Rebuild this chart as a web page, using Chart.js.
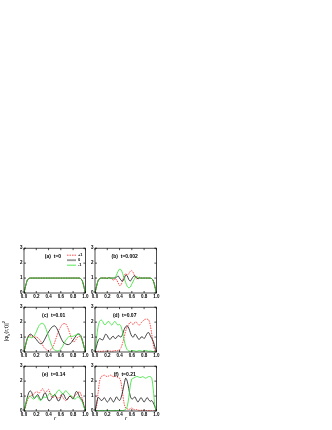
<!DOCTYPE html>
<html lang="en">
<head>
  <meta charset="UTF-8" />
  <title>Spin components |phi_k(r,t)|^2</title>
  <script src="https://cdn.jsdelivr.net/npm/chart.js"></script>
  <style>
    body {
      margin: 0;
      width: 332px;
      height: 430px;
      background: white;
      position: relative;
      overflow: hidden;
      font-family: "Liberation Sans", Arial, sans-serif;
    }
    .panel {
      position: absolute;
    }
    .ylab {
      position: absolute;
      left: -14px;
      top: 326px;
      width: 40px;
      text-align: center;
      font-size: 6px;
      transform: rotate(-90deg);
      white-space: nowrap;
    }
    .ylab sub, .ylab sup { font-size: 4px; }
    .rlab {
      position: absolute;
      top: 415px;
      font-size: 6px;
      font-style: italic;
    }
  </style>
</head>
<body>
  <canvas class="panel" id="pa" width="74" height="57" style="left:16px;top:244px"></canvas>
  <canvas class="panel" id="pb" width="74" height="57" style="left:87px;top:244px"></canvas>
  <canvas class="panel" id="pc" width="74" height="57" style="left:16px;top:303px"></canvas>
  <canvas class="panel" id="pd" width="74" height="57" style="left:87px;top:303px"></canvas>
  <canvas class="panel" id="pe" width="74" height="57" style="left:16px;top:362px"></canvas>
  <canvas class="panel" id="pf" width="74" height="57" style="left:87px;top:362px"></canvas>
  <div class="ylab">|&phi;<sub>k</sub>(r,t)|<sup>2</sup></div>
  <div class="rlab" style="left:54px">r</div>
  <div class="rlab" style="left:125px">r</div>

  <script>
    // radial grid (0 .. 1, step 0.025)
    const rValues = [0, 0.025, 0.05, 0.075, 0.1, 0.125, 0.15, 0.175, 0.2, 0.225,
      0.25, 0.275, 0.3, 0.325, 0.35, 0.375, 0.4, 0.425, 0.45, 0.475,
      0.5, 0.525, 0.55, 0.575, 0.6, 0.625, 0.65, 0.675, 0.7, 0.725,
      0.75, 0.775, 0.8, 0.825, 0.85, 0.875, 0.9, 0.925, 0.95, 0.975, 1];

    const xTicks = [0, 0.2, 0.4, 0.6, 0.8, 1.0];
    const yTicks = [0, 1, 2, 3];
    const legendLabels = ['+1', '0', '-1'];

    // (a) t=0
    const aPlus  = [0,0.45,0.82,0.96,1,1,1,1,1,1,1,1,1,1,1,1,1,1,1,1,1,1,1,1,1,1,1,1,1,1,1,1,1,1,1,1,1,0.96,0.82,0.45,0];
    const aZero  = [0,0.45,0.82,0.96,1,1,1,1,1,1,1,1,1,1,1,1,1,1,1,1,1,1,1,1,1,1,1,1,1,1,1,1,1,1,1,1,1,0.96,0.82,0.45,0];
    const aMinus = [0,0.45,0.82,0.96,1,1,1,1,1,1,1,1,1,1,1,1,1,1,1,1,1,1,1,1,1,1,1,1,1,1,1,1,1,1,1,1,1,0.96,0.82,0.45,0];

    // (b) t=0.002
    const bPlus  = [0,0.45,0.82,0.96,1,1,1,1,1,1,1,0.95,0.85,0.95,0.9,0.7,0.5,0.55,0.85,1.15,1.3,1.2,1.3,1.45,1.5,1.35,1.1,0.95,1,1.05,1,1,1,1,1,1,1,0.96,0.82,0.45,0];
    const bZero  = [0,0.45,0.82,0.96,1,1,1,1,0.97,1.03,1,1,1,1,1.05,1.15,1,0.85,0.8,0.95,1.2,1.15,0.9,0.8,0.95,1.1,1.15,1.05,0.95,1,1,1,1,1,1,1,1,0.96,0.82,0.45,0];
    const bMinus = [0,0.45,0.82,0.96,1,1,1,1,1,1,1,1,1,1.05,1.2,1.45,1.6,1.55,1.3,1,0.7,0.45,0.35,0.4,0.6,0.8,1,1.1,1.05,1,1,1,1,1,1,1,1,0.96,0.82,0.45,0];

    // (c) t=0.01
    const cPlus  = [0,0.45,0.85,1.05,1.1,1.05,1,1,1,0.95,0.85,0.7,0.5,0.3,0.2,0.12,0.1,0.12,0.2,0.4,0.65,0.95,1.25,1.5,1.7,1.85,1.9,1.9,1.75,1.5,1.2,0.9,0.7,0.7,0.85,1,1.05,1,0.75,0.4,0];
    const cZero  = [0,0.45,0.85,1.1,1.2,1.15,1.05,0.95,0.85,0.7,0.6,0.55,0.6,0.75,0.95,1.15,1.35,1.5,1.65,1.72,1.75,1.65,1.45,1.2,0.95,0.75,0.6,0.55,0.5,0.5,0.55,0.65,0.8,0.95,1.1,1.2,1.2,1.1,0.8,0.4,0];
    const cMinus = [0,0.45,0.85,1,1,0.95,1,1.15,1.35,1.6,1.8,1.9,1.92,1.85,1.65,1.35,1.05,0.75,0.45,0.25,0.12,0.08,0.07,0.1,0.2,0.35,0.55,0.75,0.9,1,1.05,1.05,1.05,1.1,1.15,1.2,1.15,1.05,0.8,0.4,0];

    // (d) t=0.07
    const dPlus  = [0,0.02,0.05,0.05,0.04,0.05,0.07,0.05,0.05,0.08,0.06,0.05,0.07,0.1,0.08,0.1,0.15,0.3,0.6,1,1.4,1.7,1.85,2,1.9,1.85,2,2,1.85,1.8,1.95,2.05,2.15,2.2,2.2,2.15,1.8,1.2,0.5,0.1,0];
    const dZero  = [0,0.4,0.75,0.9,0.85,0.8,1,1.2,1.1,0.9,0.85,1,1.05,0.9,0.95,1.1,1.05,1,1.2,1.5,1.7,1.75,1.6,1.3,1.05,1,1.2,1.1,0.9,0.85,1,1,0.9,1.05,1.25,1.3,1.1,0.9,0.7,0.35,0];
    const dMinus = [0,0.9,1.7,2.05,2.15,2.05,1.85,1.85,2,2.05,1.9,1.8,1.95,2.05,1.9,1.8,1.85,1.7,1.3,0.8,0.4,0.15,0.07,0.05,0.08,0.1,0.07,0.05,0.08,0.1,0.07,0.05,0.07,0.1,0.08,0.05,0.07,0.05,0.03,0.01,0];

    // (e) t=0.14
    const ePlus  = [0,0.3,0.65,0.9,1,1.05,1.1,1.2,1.3,1.25,1.2,1.35,1.5,1.35,1.2,1.35,1.45,1.2,0.95,0.9,1,0.95,0.85,0.9,1.05,0.95,0.8,0.7,0.75,0.9,1,0.95,0.9,1,1.1,1.2,1.3,1.15,0.8,0.4,0];
    const eZero  = [0,0.4,0.85,1.2,1.35,1.25,0.95,0.85,1,1.1,0.9,0.75,0.85,1.15,1.2,0.95,0.7,0.7,0.85,1,1.1,0.95,0.7,0.7,0.95,1.15,1.1,0.85,0.75,0.9,1,0.9,0.8,1.05,1.3,1.25,1,0.85,0.7,0.35,0];
    const eMinus = [0,0.4,0.8,0.95,1,0.9,0.8,0.85,1,0.95,0.75,0.7,0.85,0.95,0.9,0.95,1.1,1.2,1.1,1,1.05,1.2,1.35,1.4,1.3,1.15,1.2,1.35,1.3,1.15,1.05,1,0.9,0.8,0.85,0.95,0.9,0.75,0.6,0.3,0];

    // (f) t=0.21
    const fPlus  = [0,0.3,1.2,2,2.3,2.35,2.4,2.35,2.3,2.35,2.4,2.35,2.3,2.35,2.3,2.25,2.2,1.9,1.2,0.5,0.2,0.15,0.1,0.15,0.2,0.12,0.08,0.1,0.06,0.04,0.05,0.03,0.04,0.03,0.02,0.03,0.02,0.01,0.01,0,0];
    const fZero  = [0,0.5,0.9,0.85,0.7,0.75,0.9,0.75,0.6,0.7,0.9,0.75,0.6,0.75,0.95,0.8,0.7,0.9,1.3,1.8,2.2,2,1.5,1,0.8,0.85,0.95,0.75,0.6,0.75,0.9,0.75,0.6,0.75,0.9,0.75,0.65,0.7,0.55,0.3,0];
    const fMinus = [0,0.02,0.03,0.02,0.03,0.04,0.03,0.02,0.03,0.04,0.03,0.02,0.03,0.04,0.03,0.02,0.03,0.04,0.03,0.05,0.1,0.3,0.9,1.7,2.15,2.2,2.25,2.3,2.3,2.25,2.25,2.3,2.25,2.2,2.25,2.3,2.3,2.2,1.4,0.4,0];

    const panels = [
      { id: 'pa', label: '(a)  t=0',     plus: aPlus, zero: aZero, minus: aMinus, legend: true },
      { id: 'pb', label: '(b)  t=0.002', plus: bPlus, zero: bZero, minus: bMinus },
      { id: 'pc', label: '(c)  t=0.01',  plus: cPlus, zero: cZero, minus: cMinus },
      { id: 'pd', label: '(d)  t=0.07',  plus: dPlus, zero: dZero, minus: dMinus },
      { id: 'pe', label: '(e)  t=0.14',  plus: ePlus, zero: eZero, minus: eMinus },
      { id: 'pf', label: '(f)  t=0.21',  plus: fPlus, zero: fZero, minus: fMinus }
    ];

    const RED = '#ff2020', BLACK = '#111111', GREEN = '#30e030';

    function pts(vals) {
      return vals.map((v, i) => ({ x: rValues[i], y: v }));
    }

    // gnuplot-like frame with inward ticks, panel label and optional key
    const framePlugin = {
      id: 'frame',
      afterDraw(chart, args, opts) {
        const ctx = chart.ctx;
        const a = chart.chartArea;
        const xs = chart.scales.x, ys = chart.scales.y;
        ctx.save();
        ctx.strokeStyle = '#000';
        ctx.lineWidth = 0.7;
        ctx.strokeRect(a.left, a.top, a.right - a.left, a.bottom - a.top);
        ctx.beginPath();
        xTicks.forEach(v => {
          const px = xs.getPixelForValue(v);
          ctx.moveTo(px, a.bottom); ctx.lineTo(px, a.bottom - 2);
          ctx.moveTo(px, a.top); ctx.lineTo(px, a.top + 2);
        });
        yTicks.forEach(v => {
          const py = ys.getPixelForValue(v);
          ctx.moveTo(a.left, py); ctx.lineTo(a.left + 2, py);
          ctx.moveTo(a.right, py); ctx.lineTo(a.right - 2, py);
        });
        ctx.stroke();

        ctx.fillStyle = '#000';
        ctx.font = 'bold 5px "Liberation Sans", Arial, sans-serif';
        ctx.textAlign = 'center';
        ctx.textBaseline = 'middle';
        const cx = opts.legend ? a.left + 29 : (a.left + a.right) / 2 - 1;
        ctx.fillText(opts.label, cx, a.top + 8);

        if (opts.legend) {
          const styles = [
            { c: RED, w: 0.8, d: [1.5, 1] },
            { c: '#999', w: 1.8, d: [] },
            { c: GREEN, w: 0.8, d: [] }
          ];
          ctx.font = 'bold 4px "Liberation Sans", Arial, sans-serif';
          ctx.textAlign = 'left';
          styles.forEach((s, i) => {
            const y = a.top + 7 + i * 5;
            ctx.beginPath();
            ctx.strokeStyle = s.c;
            ctx.lineWidth = s.w;
            ctx.setLineDash(s.d);
            ctx.moveTo(a.left + 43, y);
            ctx.lineTo(a.left + 52, y);
            ctx.stroke();
            ctx.setLineDash([]);
            ctx.fillText(legendLabels[i], a.left + 54, y);
          });
        }
        ctx.restore();
      }
    };

    const tickFont = { size: 4.5, weight: 'bold', family: '"Liberation Sans", Arial, sans-serif' };

    panels.forEach(p => {
      new Chart(document.getElementById(p.id), {
        type: 'line',
        data: {
          datasets: [
            { label: '-1', data: pts(p.minus), borderColor: GREEN, borderWidth: 0.8 },
            { label: '0',  data: pts(p.zero),  borderColor: BLACK, borderWidth: 0.8 },
            { label: '+1', data: pts(p.plus),  borderColor: RED,   borderWidth: 0.8, borderDash: [1.5, 1] }
          ]
        },
        options: {
          responsive: false,
          animation: false,
          events: [],
          layout: { padding: { left: 0, top: 2, right: 3, bottom: 0 } },
          elements: {
            point: { radius: 0 },
            line: { tension: 0.3, fill: false }
          },
          plugins: {
            legend: { display: false },
            tooltip: { enabled: false },
            frame: { label: p.label, legend: !!p.legend }
          },
          scales: {
            x: {
              type: 'linear', min: 0, max: 1,
              grid: { display: false, drawTicks: false },
              border: { display: false },
              afterFit(s) { s.height = 8; },
              ticks: {
                stepSize: 0.2, autoSkip: false, maxRotation: 0, padding: 1.5,
                color: '#000', font: tickFont,
                callback: v => v.toFixed(1)
              }
            },
            y: {
              min: 0, max: 3,
              grid: { display: false, drawTicks: false },
              border: { display: false },
              afterFit(s) { s.width = 8; },
              ticks: { stepSize: 1, padding: 1.5, color: '#000', font: tickFont }
            }
          }
        },
        plugins: [framePlugin]
      });
    });
  </script>
</body>
</html>
